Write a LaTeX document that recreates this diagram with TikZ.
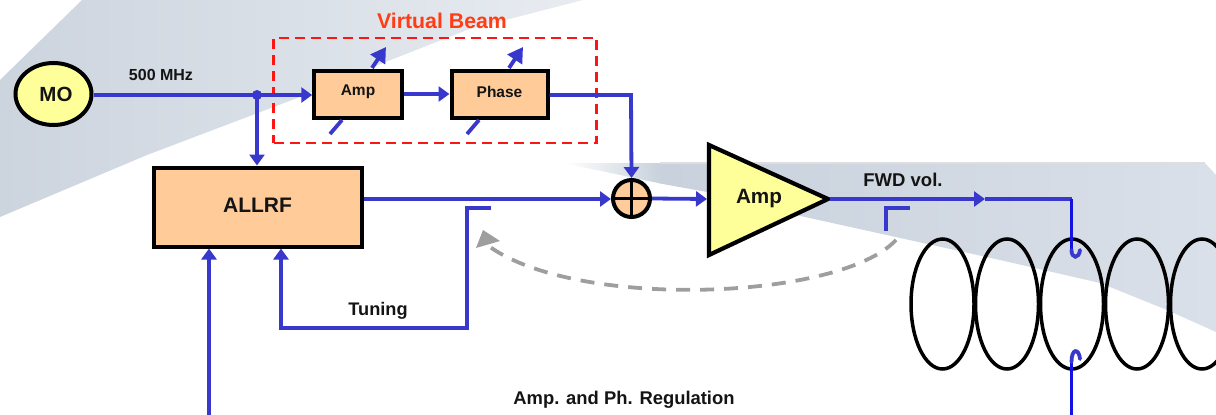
\documentclass[tikz,border=0pt]{standalone}
\usepackage{fontspec}
\setmainfont{Liberation Sans}
\usetikzlibrary{arrows.meta,shapes.geometric}
\definecolor{wire}{HTML}{3838CC}
\definecolor{purewire}{HTML}{1414E0}
\definecolor{peach}{HTML}{FFCC99}
\definecolor{paleyellow}{HTML}{FFFF99}
\definecolor{beamred}{HTML}{FF1414}
\definecolor{beamtext}{HTML}{FF3C14}
\definecolor{swooshAl}{RGB}{204,212,222}
\definecolor{swooshAr}{RGB}{232,236,241}
\definecolor{swooshBl}{RGB}{200,209,220}
\definecolor{swooshBr}{RGB}{218,224,233}
\definecolor{swooshEdge}{RGB}{222,222,222}
\tikzset{
  lbl/.style={font=\bfseries\fontsize{#1}{#1}\selectfont,inner sep=0pt,text=black!92},
  wireline/.style={draw=wire,line width=3.8pt,line join=miter},
  wirearrow/.style={wireline,-{Triangle[length=11pt,width=15pt]}},
  knobarrow/.style={wireline,-{Triangle[length=15pt,width=17pt]}},
  blockbox/.style={draw=black,fill=peach,line width=4pt,rectangle,inner sep=0pt,line join=miter},
  coil/.style={draw=black,line width=3.5pt},
}
\begin{document}
\begin{tikzpicture}[x=1pt,y=-1pt]
\useasboundingbox (0,0) rectangle (1216,415);
% background swooshes
\shade[left color=swooshAl,right color=swooshAr]
  (82,0) -- (0,80) -- (0,217) -- (147,155) -- (300,97) -- (383,63) -- (467,30) -- (583,0) -- cycle;
\shade[left color=white,right color=swooshBl]
  (563,163) -- (660.5,163) -- (660.5,183.5) -- (620,175) -- cycle;
\shade[left color=swooshBl,right color=swooshBr]
  (660,163) -- (1205,163) -- (1216,175) -- (1216,332) -- (1167,310) -- (1100,283) -- (1000,260) -- (796,215) -- (707,192) -- (660,183.5) -- cycle;
\draw[line width=2.5pt,draw=swooshEdge] (660,163) -- (1205,163);

% blocks
\node[ellipse,draw=black,fill=paleyellow,line width=4pt,minimum width=76pt,minimum height=62pt,inner sep=0pt] (mo) at (53.5,94) {};
\node[lbl=20.5] (motext) at (56,94) {MO};
\node[blockbox,minimum width=87.5pt,minimum height=47pt] (ampbox) at (358,94) {};
\node[lbl=15.5] at (358,92) {Amp};
\node[blockbox,minimum width=96pt,minimum height=47pt] (phasebox) at (499.5,94) {};
\node[lbl=15.5] at (499.5,92) {Phase};
\node[blockbox,minimum width=208pt,minimum height=79pt] (allrf) at (257.5,207) {};
\node[lbl=21] at (257.5,205) {ALLRF};
\node[circle,draw=black,fill=peach,line width=4pt,minimum size=37pt,inner sep=0pt] (sum) at (631.5,198.5) {};
\draw[black,line width=3.5pt] (sum.north) -- (sum.south) (sum.west) -- (sum.east);

% amplifier
\coordinate (ampin) at (707,199);
\coordinate (ampout) at (830,199);
\draw[black,fill=paleyellow,line width=4.2pt,line join=miter] (709,145) -- (709,255) -- (828,199) -- cycle;
\node[lbl=20.7] at (759,199) {Amp};

% virtual beam frame
\node[draw=beamred,line width=2.5pt,dash pattern=on 10pt off 6pt,rectangle,minimum width=323pt,minimum height=105pt,inner sep=0pt] (vb) at (435,90.5) {};
\node[lbl=21.3,text=beamtext] at (442,21) {Virtual Beam};

% connectors
\coordinate (junction) at (257,95);
\coordinate (phcorner) at (631,95);
\coordinate (allrfin) at (allrf.north -| junction);
\draw[wireline] (mo.east |- junction) -- (junction);
\fill[wire] (junction) circle (5pt);
\draw[wirearrow] (junction) -- (ampbox.west |- junction);
\draw[wirearrow] (junction) -- (allrfin);
\draw[wirearrow] (ampbox.east) -- (phasebox.west);
\draw[wirearrow] (phasebox.east |- phcorner) -- (phcorner) -- (sum.north);
\coordinate (allrfout) at (allrf.east |- 0,199);
\draw[wirearrow] (allrfout) -- (sum.west |- allrfout);
\draw[wirearrow] (sum.east) -- (ampin);

% adjust arrows on amp and phase
\coordinate (ampknobtop) at (386,47);
\coordinate (ampknobbot) at (372,68);
\coordinate (phknobtop) at (523,47);
\coordinate (phknobbot) at (509,68);
\draw[knobarrow] (ampknobbot) -- (ampknobtop);
\draw[knobarrow] (phknobbot) -- (phknobtop);
\coordinate (ampctlA) at (330,134);
\coordinate (ampctlB) at (342,120);
\coordinate (phctlA) at (467,134);
\coordinate (phctlB) at (479,120);
\draw[wireline] (ampctlA) -- (ampctlB);
\draw[wireline] (phctlA) -- (phctlB);

% forward line and couplers
\coordinate (fwdmid) at (985,199);
\coordinate (fwdcorner) at (1071.5,199);
\coordinate (couplA) at (1071.5,250);
\coordinate (couplB) at (1071.5,362);
\coordinate (couplEnd) at (1071.5,415);
\draw[wirearrow] (ampout) -- (fwdmid);
\draw[wireline] (fwdmid) -- (fwdcorner);
% coils
\foreach \n/\cx in {c1/942.5,c2/1007,c3/1072,c4/1137,c5/1202}{
  \node[ellipse,coil,minimum width=63pt,minimum height=130pt,inner sep=0pt] (\n) at (\cx,304) {};
}
\draw[draw=purewire,line width=3.6pt] (fwdcorner) -- (couplA);
\draw[wireline,line cap=round] (couplA) .. controls (1071.5,259) and (1079,259) .. (1080,250);
\draw[draw=purewire,line width=3.6pt] (couplEnd) -- (couplB);
\draw[wireline,line cap=round] (couplB) .. controls (1071.5,348) and (1079,348) .. (1080,359);

% feedback
\coordinate (tuneA) at (491,208);
\coordinate (tuneB) at (467,208);
\coordinate (tuneC) at (467,328);
\coordinate (tuneD) at (281,328);
\draw[wirearrow] (tuneA) -- (tuneB) -- (tuneC) -- (tuneD) -- (tuneD |- allrf.south);
\coordinate (regin) at (209,415);
\draw[wirearrow] (regin) -- (regin |- allrf.south);
\coordinate (pickA) at (910,208);
\coordinate (pickB) at (886,208);
\coordinate (pickC) at (886,231);
\draw[wireline] (pickA) -- (pickB) -- (pickC);

% grey dashed return
\coordinate (retA) at (896,240);
\coordinate (retB) at (490,247);
\coordinate (rettip) at (483,230);
\draw[draw=black!38,line width=3.8pt,dash pattern=on 14pt off 10pt] (retA) .. controls (840,300) and (580,310) .. (retB);
\fill[black!38] (rettip) -- (500,241) -- (476,248) -- cycle;

% labels
\node[lbl=16] at (161,75) {500 MHz};
\node[lbl=18.5] at (903,180) {FWD vol.};
\node[lbl=18.2] at (378,311) {Tuning};
\node[lbl=18.4] at (624,400) {Amp. and Ph. Regulation};
\end{tikzpicture}
\end{document}
